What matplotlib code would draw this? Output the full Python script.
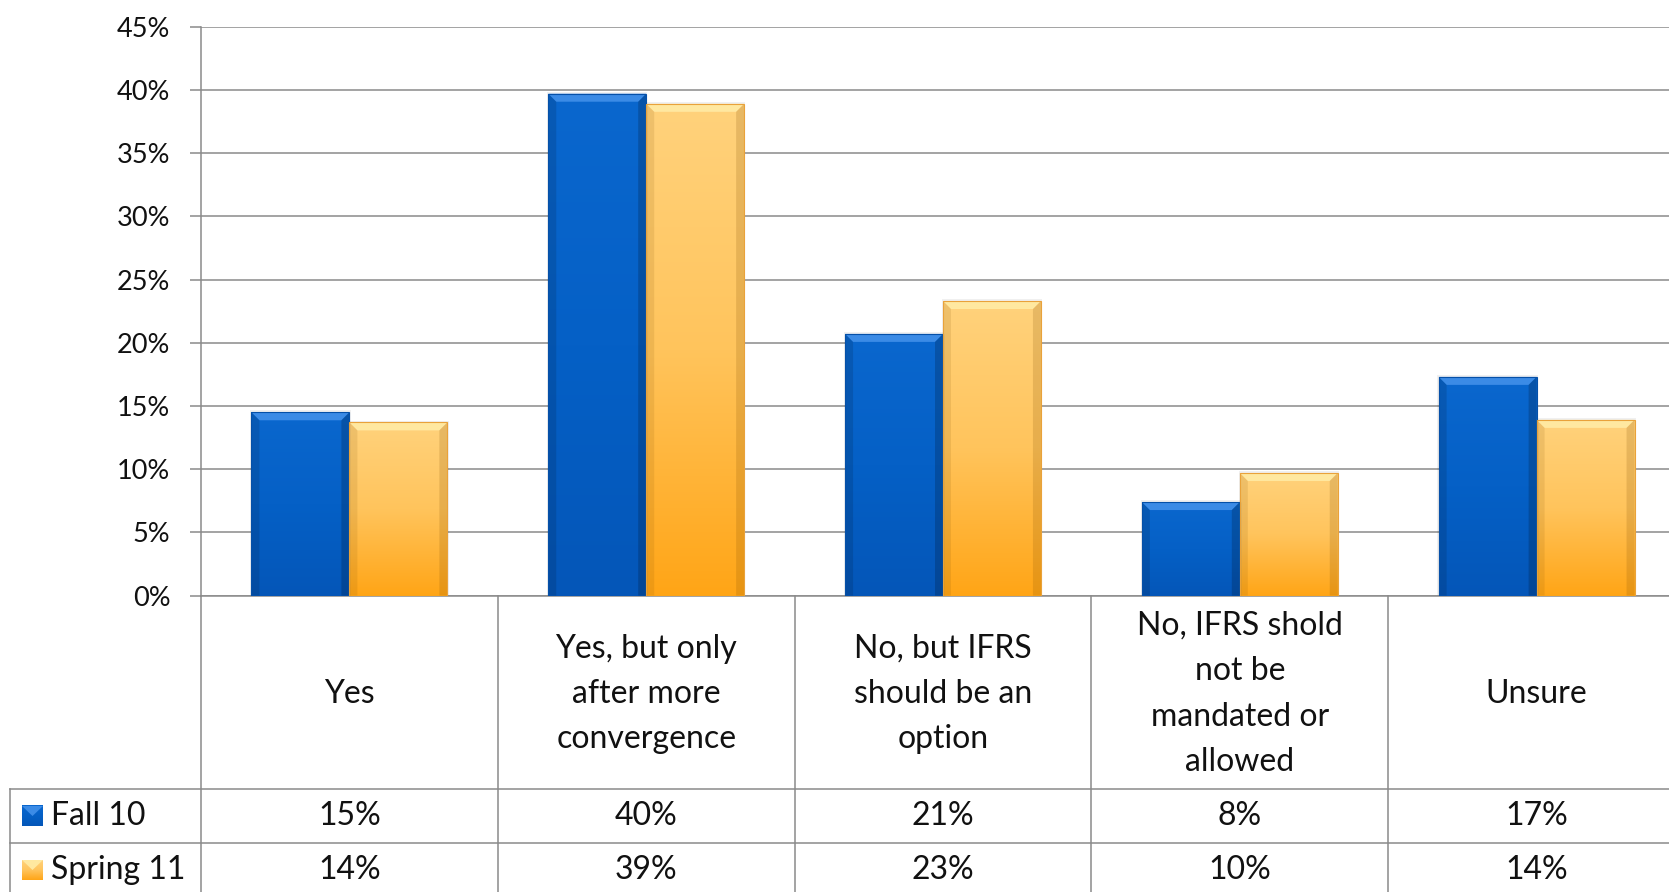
import numpy as np
import matplotlib
matplotlib.use("Agg")
import matplotlib.pyplot as plt
from matplotlib.colors import LinearSegmentedColormap
from matplotlib.patches import Polygon, Rectangle
import matplotlib.transforms as mtransforms

# ---------------- data ----------------
categories = ["Yes",
              "Yes, but only\nafter more\nconvergence",
              "No, but IFRS\nshould be an\noption",
              "No, IFRS shold\nnot be\nmandated or\nallowed",
              "Unsure"]
series_names = ["Fall 10", "Spring 11"]
fall = [14.5, 39.7, 20.7, 7.4, 17.3]
spring = [13.7, 38.9, 23.3, 9.7, 13.9]
fall_table = ["15%", "40%", "21%", "8%", "17%"]
spring_table = ["14%", "39%", "23%", "10%", "14%"]
yticks = [0, 5, 10, 15, 20, 25, 30, 35, 40, 45]

# ---------------- style ----------------
plt.rcParams["font.family"] = ["Lato", "DejaVu Sans"]
W, H = 1669, 892
fig = plt.figure(figsize=(W / 100, H / 100), dpi=100)
fig.patch.set_facecolor("white")

ax_left, ax_top, ax_bottom = 201.0, 26.7, 595.6
col_w = 296.8
n = len(categories)
ax_right = ax_left + n * col_w
ax_h = ax_bottom - ax_top
ax = fig.add_axes([ax_left / W, 1 - ax_bottom / H, (ax_right - ax_left) / W, ax_h / H])
ax.set_facecolor("none")

grid_c = "#8a8a8a"
lw = 1.1
fs_table = 23
fs_tick = 19.5

ax.set_yticks(yticks)
ax.set_yticklabels([f"{v}%" for v in yticks], fontsize=fs_tick, color="#111111")
ax.tick_params(axis="y", length=8, width=lw, color=grid_c, pad=14)
ax.tick_params(axis="x", bottom=False, labelbottom=False)
ax.yaxis.grid(True, color=grid_c, linewidth=lw)
ax.set_axisbelow(True)
for s in ["top", "right"]:
    ax.spines[s].set_visible(False)
for s in ["left", "bottom"]:
    ax.spines[s].set_color(grid_c)
    ax.spines[s].set_linewidth(lw)

blue_cmap = LinearSegmentedColormap.from_list("b", ["#0A67CE", "#0560C6", "#0456B8"])
orange_cmap = LinearSegmentedColormap.from_list("o", ["#FFD27C", "#FFC45C", "#FFA516"])
grad = np.linspace(0, 1, 256).reshape(-1, 1)

bar_w = 0.33
bx = 8.0 / col_w
by = 8.0 / (ax_h / 45.0)
x = np.arange(n)


def draw_bar(x0, h, cmap, top_col, side_col, edge_col):
    x1 = x0 + bar_w
    ax.add_patch(Rectangle((x0 - 0.004, -0.15), bar_w + 0.008, h + 0.3,
                           facecolor="#000000", alpha=0.06, edgecolor="none", zorder=2))
    ax.imshow(grad, extent=[x0, x1, 0, h], aspect="auto", cmap=cmap,
              origin="upper", zorder=3, interpolation="bilinear")
    ax.add_patch(Polygon([(x0, h), (x1, h), (x1 - bx, h - by), (x0 + bx, h - by)],
                         closed=True, facecolor=top_col, edgecolor="none", zorder=4))
    ax.add_patch(Polygon([(x0, 0), (x0, h), (x0 + bx, h - by), (x0 + bx, 0)],
                         closed=True, facecolor=side_col, alpha=0.12, edgecolor="none", zorder=4))
    ax.add_patch(Polygon([(x1, 0), (x1, h), (x1 - bx, h - by), (x1 - bx, 0)],
                         closed=True, facecolor=side_col, alpha=0.18, edgecolor="none", zorder=4))
    ax.add_patch(Rectangle((x0, 0), bar_w, h, facecolor="none", edgecolor=edge_col,
                           linewidth=0.8, zorder=5))


for i in range(n):
    draw_bar(x[i] - bar_w, fall[i], blue_cmap, "#3B8BE6", "#000000", "#0550A8")
    draw_bar(x[i], spring[i], orange_cmap, "#FFE8A0", "#7a4a00", "#E9A23A")

ax.set_xlim(-0.5, n - 0.5)
ax.set_ylim(0, 45)

# ---------------- data table ----------------
trans = mtransforms.blended_transform_factory(ax.transData, ax.transAxes)


def yf(py):
    return (ax_bottom - py) / ax_h


def xd(px):
    return (px - ax_left) / col_w - 0.5


row1, row2, row_end = 788.5, 842.7, 900.0
line_kw = dict(color=grid_c, linewidth=lw, transform=trans, clip_on=False, zorder=1)

ax.plot([-0.5, -0.5], [0, yf(row_end)], **line_kw)
for i in range(n):
    ax.plot([i + 0.5, i + 0.5], [0, yf(row_end)], **line_kw)
ax.plot([xd(10), n - 0.5], [yf(row1), yf(row1)], **line_kw)
ax.plot([xd(10), n - 0.5], [yf(row2), yf(row2)], **line_kw)
ax.plot([xd(10), xd(10)], [yf(row1), yf(row_end)], **line_kw)

txt_c = "#111111"
for i, c in enumerate(categories):
    ax.text(x[i], yf(694), c, transform=trans, ha="center", va="center",
            fontsize=fs_table, linespacing=1.64, clip_on=False, color=txt_c)
    ax.text(x[i], yf(816), fall_table[i], transform=trans, ha="center", va="center",
            fontsize=fs_table, clip_on=False, color=txt_c)
    ax.text(x[i], yf(870), spring_table[i], transform=trans, ha="center", va="center",
            fontsize=fs_table, clip_on=False, color=txt_c)

for name, yc, cmap, topc in [(series_names[0], 816, blue_cmap, "#3B8BE6"),
                             (series_names[1], 870, orange_cmap, "#FFE8A0")]:
    kx0, kx1 = xd(22), xd(43)
    ky0, ky1 = yf(yc + 10), yf(yc - 10)
    ax.imshow(grad, extent=[kx0, kx1, ky0, ky1], aspect="auto", cmap=cmap,
              origin="upper", transform=trans, clip_on=False, zorder=3)
    ax.add_patch(Polygon([(kx0, ky1), (kx1, ky1), ((kx0 + kx1) / 2, (ky0 + ky1) / 2)],
                         closed=True, facecolor=topc, edgecolor="none",
                         transform=trans, clip_on=False, zorder=4))
    ax.text(xd(51), yf(yc), name, transform=trans, ha="left", va="center",
            fontsize=fs_table, clip_on=False, color=txt_c)

ax.set_xlim(-0.5, n - 0.5)
ax.set_ylim(0, 45)
fig.savefig("out.png", dpi=100, facecolor="white")
